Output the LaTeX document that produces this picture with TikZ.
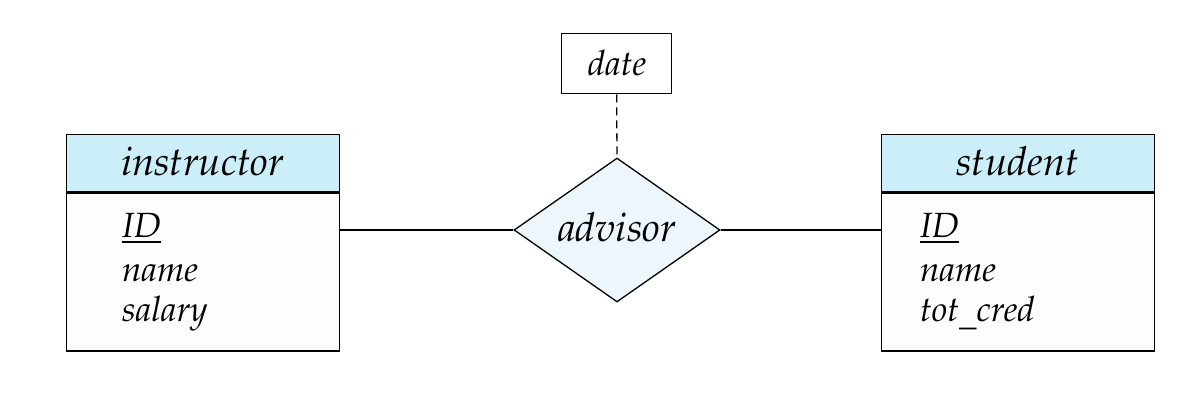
\documentclass[tikz,border=0pt]{standalone}
\usepackage[T1]{fontenc}
\usepackage{mathpazo}
\usetikzlibrary{shapes.geometric}
\definecolor{hdrblue}{RGB}{204,238,249}
\definecolor{relblue}{RGB}{236,246,252}
\definecolor{bodywhite}{RGB}{253,253,253}
% primary-key attribute: text with a rule set a little below the baseline
\newcommand\keyattr[1]{\setbox0\hbox{#1}\rlap{\rule[-5pt]{\wd0}{1.5pt}}\box0}
\begin{document}
\begin{tikzpicture}[x=1pt,y=-1pt,
  every node/.style={font=\fontsize{35}{42}\selectfont\itshape},
  big/.style={font=\fontsize{40}{48}\selectfont\itshape},
  hdr/.style={draw, line width=1.3pt, fill=hdrblue, minimum width=273pt, minimum height=57pt, inner sep=0pt, anchor=north west},
  body/.style={draw, line width=1.3pt, fill=bodywhite, minimum width=273pt, minimum height=158pt, inner sep=0pt, anchor=north},
  attr/.style={anchor=base west, inner sep=0pt},
  rel/.style={diamond, draw, line width=1.3pt, fill=relblue, minimum width=206pt, minimum height=144pt, inner sep=0pt},
  attbox/.style={draw, line width=1.3pt, fill=white, minimum width=110pt, minimum height=60pt, inner sep=0pt, anchor=north west},
  conn/.style={line width=1.3pt}]
\useasboundingbox (0,0) rectangle (1200,403);

% instructor entity
\node[hdr] (ihead) at (66,134) {};
\node[big, anchor=base] (ititle) at (202.5,176) {instructor};
\node[body] (ibody) at (ihead.south) {};
\node[attr] (iid) at (122,238) {\keyattr{ID}};
\node[attr] (iname) at (122,282) {name};
\node[attr] (isal) at (122,322) {salary};

% student entity
\node[hdr] (shead) at (881,134) {};
\node[big, anchor=base] (stitle) at (1017.5,176) {student};
\node[body] (sbody) at (shead.south) {};
\node[attr] (sid) at (920,238) {\keyattr{ID}};
\node[attr] (sname) at (920,282) {name};
\node[attr] (scred) at (920,322) {tot\raisebox{-4pt}{\_}cred};

% relationship and its attribute
\node[rel] (adv) at (617,230) {};
\node[big, anchor=base] (advlabel) at (617,242) {advisor};
\node[attbox] (date) at (561,33) {};
\node[anchor=base] (datelabel) at (617,76) {date};

\draw[conn] (ibody.east |- adv.west) -- (adv.west);
\draw[conn] (adv.east) -- (sbody.west |- adv.east);
\draw[conn, dashed, dash pattern=on 8pt off 5pt] (date.south) -- (adv.north);
\end{tikzpicture}
\end{document}
